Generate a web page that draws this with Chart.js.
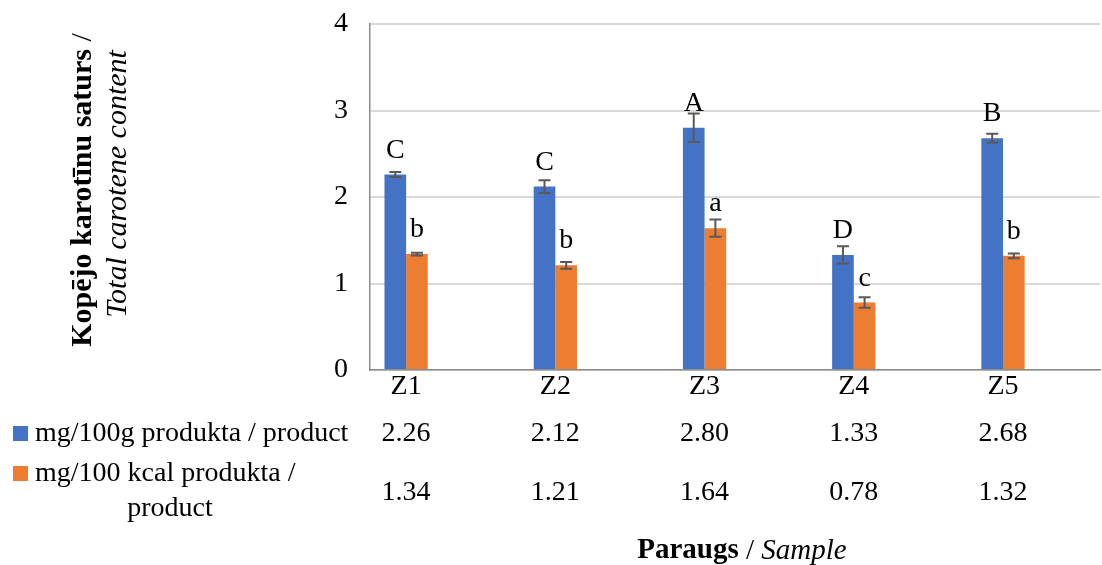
<!DOCTYPE html>
<html>
<head>
<meta charset="utf-8">
<script src="https://cdn.jsdelivr.net/npm/chart.js@4.4.0/dist/chart.umd.min.js"></script>
<style>
  html, body { margin: 0; padding: 0; background: #fff; }
  #wrap { width: 1102px; height: 565px; }
</style>
</head>
<body>
<div id="wrap"><canvas id="chart" width="1102" height="565"></canvas></div>
<script>
// data
const samples = ['Z1', 'Z2', 'Z3', 'Z4', 'Z5'];
const per100g = [2.26, 2.12, 2.80, 1.33, 2.68];
const per100kcal = [1.34, 1.21, 1.64, 0.78, 1.32];
const sd100g = [0.03, 0.075, 0.165, 0.10, 0.05];
const sd100kcal = [0.015, 0.04, 0.10, 0.06, 0.027];
const letters100g = ['C', 'C', 'A', 'D', 'B'];
const letters100kcal = ['b', 'b', 'a', 'c', 'b'];
const yTicks = [0, 1, 2, 3, 4];
const seriesNames = ['mg/100g produkta / product', 'mg/100 kcal produkta /', 'product'];

const BLUE = '#4472C4';
const ORANGE = '#ED7D31';
const FONT = '"Liberation Serif", "Times New Roman", serif';

// error bars, letters, data table, axis titles
const extras = {
  id: 'extras',
  afterDatasetsDraw(chart) {
    const ctx = chart.ctx;
    const ys = chart.scales.y;
    const xs = chart.scales.x;
    const sds = [sd100g, sd100kcal];
    const lets = [letters100g, letters100kcal];
    ctx.save();
    [0, 1].forEach(d => {
      const meta = chart.getDatasetMeta(d);
      const vals = chart.data.datasets[d].data;
      meta.data.forEach((bar, i) => {
        const v = vals[i].y;
        const top = ys.getPixelForValue(v + sds[d][i]);
        const bot = ys.getPixelForValue(v - sds[d][i]);
        ctx.strokeStyle = '#595959';
        ctx.lineWidth = 2;
        ctx.beginPath();
        ctx.moveTo(bar.x, top); ctx.lineTo(bar.x, bot);
        ctx.moveTo(bar.x - 6, top); ctx.lineTo(bar.x + 6, top);
        ctx.moveTo(bar.x - 6, bot); ctx.lineTo(bar.x + 6, bot);
        ctx.stroke();
        ctx.fillStyle = '#000';
        ctx.font = '28px ' + FONT;
        ctx.textAlign = 'center';
        ctx.textBaseline = 'alphabetic';
        ctx.fillText(lets[d][i], bar.x, bar.y - 17);
      });
    });

    // data table
    ctx.font = '28px ' + FONT;
    ctx.textBaseline = 'middle';
    ctx.textAlign = 'center';
    samples.forEach((s, i) => {
      const x = xs.getPixelForValue(i);
      ctx.fillText(per100g[i].toFixed(2), x, 434);
      ctx.fillText(per100kcal[i].toFixed(2), x, 493);
    });
    ctx.fillStyle = BLUE;
    ctx.fillRect(13, 426, 15, 15);
    ctx.fillStyle = ORANGE;
    ctx.fillRect(13, 466, 15, 15);
    ctx.fillStyle = '#000';
    ctx.textAlign = 'left';
    ctx.fillText(seriesNames[0], 35, 434);
    ctx.fillText(seriesNames[1], 35, 474);
    ctx.textAlign = 'center';
    ctx.fillText(seriesNames[2], 170, 509);

    // x axis title: bold + italic
    const parts = [['bold 29px ', 'Paraugs'], ['29px ', ' / '], ['italic 29px ', 'Sample']];
    let w = 0;
    parts.forEach(p => { ctx.font = p[0] + FONT; w += ctx.measureText(p[1]).width; });
    let x0 = 742 - w / 2;
    ctx.textAlign = 'left';
    parts.forEach(p => {
      ctx.font = p[0] + FONT;
      ctx.fillText(p[1], x0, 551);
      x0 += ctx.measureText(p[1]).width;
    });

    // y axis title, rotated
    const line1 = [['bold 30px ', 'Kopējo karotīnu saturs'], ['30px ', ' /']];
    ctx.save();
    ctx.translate(83, 190);
    ctx.rotate(-Math.PI / 2);
    w = 0;
    line1.forEach(p => { ctx.font = p[0] + FONT; w += ctx.measureText(p[1]).width; });
    x0 = -w / 2;
    line1.forEach(p => {
      ctx.font = p[0] + FONT;
      ctx.fillText(p[1], x0, 0);
      x0 += ctx.measureText(p[1]).width;
    });
    ctx.restore();
    ctx.save();
    ctx.translate(118, 184);
    ctx.rotate(-Math.PI / 2);
    ctx.font = 'italic 30px ' + FONT;
    ctx.textAlign = 'center';
    ctx.fillText('Total carotene content', 0, 0);
    ctx.restore();
    ctx.restore();
  }
};

new Chart(document.getElementById('chart'), {
  type: 'bar',
  data: {
    datasets: [
      {
        label: seriesNames[0],
        data: per100g.map((v, i) => ({ x: i, y: v })),
        backgroundColor: BLUE,
        categoryPercentage: 0.29,
        barPercentage: 1
      },
      {
        label: seriesNames[1] + ' ' + seriesNames[2],
        data: per100kcal.map((v, i) => ({ x: i, y: v })),
        backgroundColor: ORANGE,
        categoryPercentage: 0.29,
        barPercentage: 1
      }
    ]
  },
  options: {
    responsive: false,
    animation: false,
    layout: { padding: { top: 24, right: 2, left: 0, bottom: 0 } },
    plugins: { legend: { display: false }, tooltip: { enabled: false } },
    scales: {
      x: {
        type: 'linear',
        offset: false,
        min: -0.242,
        max: 4.65,
        afterFit: s => { s.height = 195; s.paddingLeft = 0; s.paddingRight = 0; },
        afterBuildTicks: s => { s.ticks = samples.map((_, i) => ({ value: i })); },
        ticks: {
          autoSkip: false,
          maxRotation: 0,
          padding: 0,
          color: '#000',
          font: { family: FONT, size: 28 },
          callback: v => samples[v]
        },
        grid: { display: false, drawTicks: false },
        border: { color: '#8c8c8c', width: 1.5 }
      },
      y: {
        min: 0,
        max: 4,
        afterFit: s => { s.width = 370; s.paddingTop = 0; s.paddingBottom = 0; },
        afterBuildTicks: s => { s.ticks = yTicks.map(v => ({ value: v })); },
        ticks: {
          padding: 22,
          color: '#000',
          font: { family: FONT, size: 28 }
        },
        grid: { color: '#d9d9d9', lineWidth: 2, drawTicks: false },
        border: { color: '#8c8c8c', width: 1.5 }
      }
    }
  },
  plugins: [extras]
});
</script>
</body>
</html>
